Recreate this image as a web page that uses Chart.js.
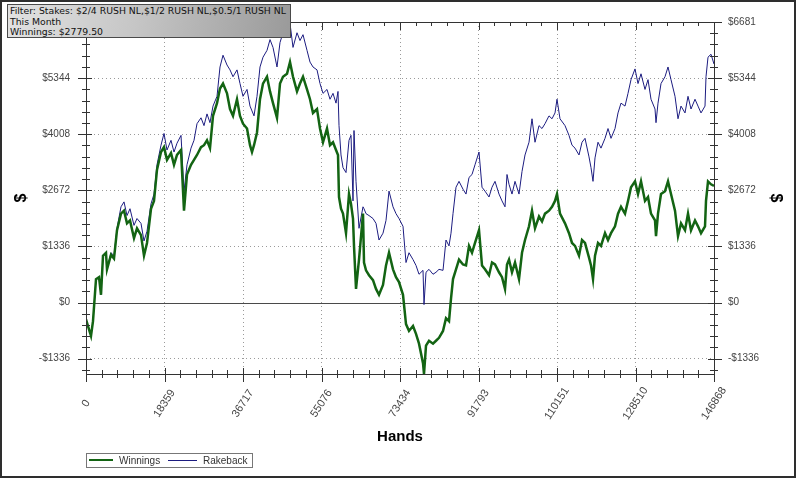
<!DOCTYPE html>
<html>
<head>
<meta charset="utf-8">
<script src="https://cdn.jsdelivr.net/npm/chart.js@4.4.1/dist/chart.umd.min.js"></script>
<style>
  html, body { margin: 0; padding: 0; background: #fff; }
  #wrap { position: relative; width: 799px; height: 479px; overflow: hidden; }
  #chart { position: absolute; left: 0; top: 0; }
  #frame { position: absolute; left: 0; top: 0; width: 792px; height: 474px; border: 2px solid #2e2e2e; pointer-events: none; }
  #info {
    position: absolute; left: 7px; top: 4px; width: 280px; height: 31px;
    border: 1px solid #4a4a4a;
    background: linear-gradient(100deg, #e2e2e2 0%, #c6c6c6 45%, #9a9a9a 100%);
    font: 9.3px "DejaVu Sans", Verdana, sans-serif; color: #111;
    line-height: 10.6px; padding: 1px 0 0 2px; white-space: nowrap; box-sizing: content-box;
  }
  #legend {
    position: absolute; left: 86px; top: 453px; width: 165px; height: 13px;
    border: 1px solid #777; font: 10px "Liberation Sans", Arial, sans-serif; color: #333;
    white-space: nowrap;
  }
  #legend .sw { position: absolute; top: 5px; height: 0; }
  #legend .lb { position: absolute; top: 0; line-height: 13px; }
</style>
</head>
<body>
<div id="wrap">
  <canvas id="chart" width="799" height="479"></canvas>
  <div id="info">Filter: Stakes: $2/4 RUSH NL,$1/2 RUSH NL,$0.5/1 RUSH NL<br>This Month<br>Winnings: $2779.50</div>
  <div id="legend">
    <span class="sw" style="left:2px; width:24px; border-top:2px solid #136413"></span>
    <span class="lb" style="left:32px">Winnings</span>
    <span class="sw" style="left:81px; width:29px; border-top:1px solid #1c1c80; top:6px"></span>
    <span class="lb" style="left:116px">Rakeback</span>
  </div>
  <div id="frame"></div>
</div>
<script>
// hands played (x) and running totals in dollars
const hands = [
  0, 468, 1169, 1637, 2339, 3040, 3508, 3976, 4677, 4911,
  5847, 6548, 7250, 8185, 8887, 9589, 10290, 11226, 11927, 12863,
  13564, 14266, 15202, 15903, 16605, 17540, 18242, 18943, 19879, 20581,
  21282, 22218, 22919, 23621, 24556, 25258, 25960, 26895, 27597, 28298,
  29000, 29702, 30637, 31339, 32040, 32976, 33677, 34379, 35314, 36016,
  36718, 37653, 38355, 38822, 39290, 39992, 40693, 41395, 42330, 43032,
  43734, 44669, 45371, 46072, 47008, 47709, 48411, 49347, 50048, 50750,
  51685, 52387, 53088, 54024, 54726, 55427, 56363, 57064, 57766, 58468,
  58935, 59169, 59637, 60105, 60806, 61508, 61976, 62443, 62677, 63145,
  63847, 64782, 65016, 65484, 66185, 67121, 67822, 68524, 69459, 70161,
  70863, 71798, 72500, 73201, 74137, 74838, 75540, 76475, 77177, 77879,
  78814, 79048, 79516, 80217, 81153, 81855, 82556, 83492, 84193, 84895,
  85363, 85830, 86532, 87234, 88169, 88871, 89572, 90274, 90975, 91911,
  92613, 93314, 94250, 94951, 95653, 96588, 97290, 97991, 98459, 98927,
  99629, 100330, 101266, 101967, 102669, 103604, 104306, 105008, 105943, 106645,
  107346, 108282, 108983, 109685, 110153, 110854, 112024, 112959, 113661, 114362,
  115298, 116000, 116701, 117637, 118105, 118572, 119040, 119741, 120443, 121379,
  122080, 122782, 123717, 124419, 125120, 126056, 126757, 127459, 128394, 129096,
  129798, 130733, 131435, 132136, 133072, 133306, 133774, 134475, 135411, 136112,
  136814, 137749, 138451, 139153, 140088, 140790, 141491, 142427, 143128, 143830,
  144765, 144999, 145467, 146169, 146868
];

const winnings = [
  -396, -559, -792, -442, 559, 605, 186, 1117, 1187, 792,
  1141, 1048, 1723, 2118, 2188, 1886, 1956, 1536, 1769, 1606,
  1117, 1420, 2235, 2421, 3166, 3585, 3702, 3399, 3562, 3282,
  3515, 3632, 2188, 3050, 3282, 3399, 3515, 3702, 3748, 3864,
  3678, 4446, 4749, 5098, 5215, 4982, 4609, 4446, 4842, 4446,
  4260, 4144, 3748, 3585, 3748, 4051, 4842, 5215, 5378, 5028,
  4749, 4400, 5215, 5378, 5448, 5727, 5378, 5028, 5215, 5378,
  5075, 4842, 4516, 4609, 4144, 3818, 4144, 3748, 3818, 3632,
  3515, 2514, 2235, 2118, 1653, 2584, 2351, 2002, 1350, 326,
  1024, 2118, 954, 768, 652, 535, 326, 186, 419, 885,
  1187, 792, 605, 489, 186, -512, -675, -559, -745, -978,
  -1443, -1699, -1024, -908, -978, -908, -838, -675, -372, -442,
  93, 559, 792, 1024, 908, 885, 1350, 1187, 1420, 1723,
  885, 792, 652, 954, 908, 722, 605, 326, 908, 1024,
  722, 954, 559, 1187, 1490, 1816, 2188, 1769, 2049, 1932,
  2118, 2188, 2281, 2421, 2584, 2118, 1886, 1653, 1420, 1350,
  1117, 1490, 1420, 1071, 885, 559, 1117, 1420, 1350, 1653,
  1490, 1653, 1816, 2118, 2281, 2118, 2421, 2747, 2887, 2584,
  2887, 2421, 2514, 2118, 1956, 1583, 2118, 2584, 2654, 2887,
  2584, 2188, 1583, 1886, 1723, 2118, 1723, 1956, 1816, 1653,
  1816, 2421, 2887, 2817, 2780
];

const rakeback = [
  -396, -559, -792, -442, 559, 605, 186, 1117, 1187, 792,
  1187, 1117, 1769, 2281, 2398, 2072, 2235, 1839, 2002, 1886,
  1467, 1699, 2351, 2584, 3282, 3748, 4027, 3632, 3864, 3585,
  3795, 3981, 2654, 3282, 3678, 3864, 4260, 4400, 4214, 4493,
  4284, 4679, 4912, 5610, 5890, 5657, 5541, 5378, 5541, 5215,
  4912, 5075, 4679, 4563, 4446, 4912, 5610, 5843, 6006, 6262,
  6076, 5610, 6192, 6425, 6542, 6650, 6076, 6425, 6239, 6379,
  6006, 5727, 5610, 5541, 5215, 4982, 5075, 4842, 4982, 4749,
  5028, 4214, 3515, 3213, 3096, 3864, 3981, 2421, 4097, 2887,
  1769, 2281, 2235, 2118, 2072, 2002, 1886, 1490, 1653, 1956,
  2654, 2281, 2118, 2002, 1816, 954, 1187, 1024, 885, 675,
  768, -47, 722, 792, 675, 722, 792, 768, 1490, 1350,
  1653, 2118, 2747, 2887, 2700, 2584, 2980, 3050, 3282, 3585,
  2747, 2654, 2514, 2747, 2887, 2584, 2421, 2281, 3050, 2817,
  2584, 2887, 2584, 3120, 3515, 3818, 4377, 3818, 4214, 4144,
  4260, 4446, 4377, 4516, 4842, 4377, 4214, 3981, 3748, 3678,
  3515, 3818, 3911, 3469, 3213, 2887, 3445, 3818, 3678, 3911,
  4144, 3911, 4144, 4516, 4749, 4679, 4982, 5308, 5564, 5215,
  5448, 5075, 5308, 4842, 4609, 4284, 4749, 5215, 5378, 5610,
  5308, 4912, 4377, 4679, 4516, 4912, 4609, 4842, 4679, 4516,
  4679, 5378, 5843, 5913, 5680
];

const xTickValues = [0, 18359, 36717, 55076, 73434, 91793, 110151, 128510, 146868];
const xTickLabels = ['0', '18359', '36717', '55076', '73434', '91793', '110151', '128510', '146868'];
const yTickValues = [-1336, 0, 1336, 2672, 4008, 5344, 6681];
const yTickLabels = ['-$1336', '$0', '$1336', '$2672', '$4008', '$5344', '$6681'];
const yMin = -1700;
const yMax = 6681;

const TICK_COLOR = '#333';
const GRID_COLOR = '#9a9a9a';

// major ticks plus 4 minor ticks between each pair
function withMinors(majors, lowLimit) {
  const out = [];
  for (let i = 0; i < majors.length; i++) {
    out.push({ v: majors[i], major: true });
    if (i < majors.length - 1) {
      const step = (majors[i + 1] - majors[i]) / 5;
      for (let k = 1; k < 5; k++) out.push({ v: majors[i] + k * step, major: false });
    }
  }
  if (lowLimit !== undefined) {
    const step = (majors[1] - majors[0]) / 5;
    for (let v = majors[0] - step; v >= lowLimit; v -= step) out.push({ v: v, major: false });
  }
  return out;
}

const axesPlugin = {
  id: 'axesPlugin',
  beforeDatasetsDraw(chart) {
    const { ctx, chartArea: a, scales: { y } } = chart;
    const y0 = Math.round(y.getPixelForValue(0)) + 0.5;
    ctx.save();
    ctx.strokeStyle = '#4a4a4a';
    ctx.lineWidth = 1;
    ctx.beginPath();
    ctx.moveTo(a.left, y0);
    ctx.lineTo(a.right, y0);
    ctx.stroke();
    ctx.restore();
  },
  afterDatasetsDraw(chart) {
    const { ctx, chartArea: a, scales: { x, y } } = chart;
    ctx.save();
    ctx.strokeStyle = TICK_COLOR;
    ctx.lineWidth = 1;
    ctx.strokeRect(a.left + 0.5, a.top + 0.5, a.right - a.left, a.bottom - a.top);

    ctx.beginPath();
    withMinors(yTickValues, yMin).forEach(t => {
      const py = Math.round(y.getPixelForValue(t.v)) + 0.5;
      const out = t.major ? 8 : 4, inn = t.major ? 6 : 4;
      ctx.moveTo(a.left - out, py); ctx.lineTo(a.left + inn, py);
      ctx.moveTo(a.right - inn, py); ctx.lineTo(a.right + out, py);
    });
    withMinors(xTickValues).forEach(t => {
      const px = Math.round(x.getPixelForValue(t.v)) + 0.5;
      const out = t.major ? 8 : 4, inn = t.major ? 6 : 4;
      ctx.moveTo(px, a.bottom - inn); ctx.lineTo(px, a.bottom + out);
      ctx.moveTo(px, a.top); ctx.lineTo(px, a.top + (t.major ? 8 : 4));
    });
    ctx.stroke();

    // rotated hand counts, centred under each tick
    ctx.fillStyle = '#444';
    ctx.font = '11px "Liberation Sans", Arial, sans-serif';
    ctx.textAlign = 'center';
    ctx.textBaseline = 'middle';
    xTickValues.forEach((v, i) => {
      ctx.save();
      ctx.translate(x.getPixelForValue(v), a.bottom + 29.5);
      ctx.rotate(-57 * Math.PI / 180);
      ctx.fillText(xTickLabels[i], 0, 0);
      ctx.restore();
    });
    ctx.restore();
  }
};

const yTicks = {
  color: '#444',
  font: { family: '"Liberation Sans", Arial, sans-serif', size: 10 },
  callback: (v, i) => yTickLabels[i]
};
const dollarTitle = {
  display: true, text: '$', color: '#000', padding: 0,
  font: { family: '"Liberation Sans", Arial, sans-serif', size: 16, weight: 'bold' }
};

new Chart(document.getElementById('chart'), {
  type: 'line',
  data: {
    datasets: [
      {
        label: 'Winnings',
        data: hands.map((h, i) => ({ x: h, y: winnings[i] })),
        borderColor: '#136413',
        borderWidth: 2.5,
        pointRadius: 0,
        tension: 0,
        yAxisID: 'y'
      },
      {
        label: 'Rakeback',
        data: hands.map((h, i) => ({ x: h, y: rakeback[i] })),
        borderColor: '#1c1c80',
        borderWidth: 1,
        pointRadius: 0,
        tension: 0,
        yAxisID: 'y'
      }
    ]
  },
  options: {
    responsive: false,
    animation: false,
    layout: { padding: { left: 12, right: 14, top: 13, bottom: 33 } },
    plugins: { legend: { display: false }, tooltip: { enabled: false } },
    scales: {
      x: {
        type: 'linear',
        min: 0,
        max: 146868,
        afterBuildTicks: s => { s.ticks = xTickValues.map(v => ({ value: v })); },
        afterFit: s => { s.height = 72; },
        ticks: { display: false },
        grid: { color: GRID_COLOR, drawTicks: false },
        border: { display: false, dash: [1, 3] },
        title: {
          display: true, text: 'Hands', color: '#000', padding: 0,
          font: { family: '"Liberation Sans", Arial, sans-serif', size: 15, weight: 'bold' }
        }
      },
      y: {
        type: 'linear',
        position: 'left',
        min: yMin,
        max: yMax,
        afterBuildTicks: s => { s.ticks = yTickValues.map(v => ({ value: v })); },
        afterFit: s => { s.width = 74; },
        ticks: Object.assign({ padding: 16 }, yTicks),
        grid: {
          color: c => (c.tick && c.tick.value === 0) ? 'rgba(0,0,0,0)' : GRID_COLOR,
          drawTicks: false
        },
        border: { display: false, dash: [1, 3] },
        title: dollarTitle
      },
      y2: {
        type: 'linear',
        position: 'right',
        min: yMin,
        max: yMax,
        afterBuildTicks: s => { s.ticks = yTickValues.map(v => ({ value: v })); },
        afterFit: s => { s.width = 71; },
        ticks: Object.assign({ padding: 14 }, yTicks),
        grid: { display: false, drawTicks: false },
        border: { display: false },
        title: dollarTitle
      }
    }
  },
  plugins: [axesPlugin]
});
</script>
</body>
</html>
